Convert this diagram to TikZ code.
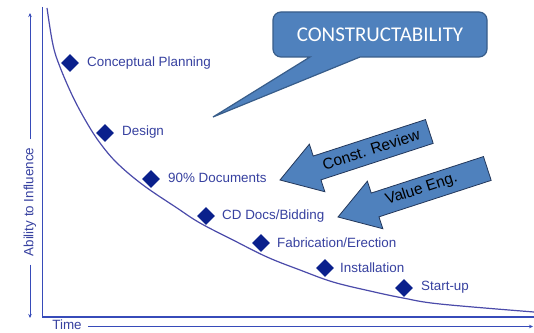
\documentclass[tikz,border=0pt]{standalone}
\usepackage{fontspec}
\setmainfont{Liberation Sans}
\newfontfamily\calibrifont{Carlito}
\usetikzlibrary{shapes.geometric,arrows.meta}
\definecolor{axisblue}{RGB}{55,75,185}
\definecolor{curveblue}{RGB}{75,75,170}
\definecolor{lblblue}{RGB}{55,65,160}
\definecolor{navy}{RGB}{10,32,140}
\definecolor{officeblue}{RGB}{79,129,189}
\definecolor{calloutedge}{RGB}{56,93,138}
\definecolor{arrowedge}{RGB}{35,55,90}
\begin{document}
\begin{tikzpicture}[x=1pt,y=1pt,
  stage/.style={diamond, fill=navy, inner sep=0pt, minimum width=18pt, minimum height=18pt},
  lbl/.style={anchor=west, text=lblblue, font=\fontsize{13.4}{15}\selectfont, inner sep=0pt},
  axisline/.style={draw=axisblue, line width=1.2pt},
  smallarrow/.style={draw=axisblue, line width=1pt, -{Stealth[length=4pt,width=3.5pt]}},
  blockarrow/.style={fill=officeblue, draw=arrowedge, line width=0.8pt, line join=miter},
  arrowtext/.style={font=\fontsize{15.5}{17}\selectfont, text=black, inner sep=0pt}
]
\useasboundingbox (0,0) rectangle (534,332);
\fill[white] (0,0) rectangle (534,332);

% axes
\coordinate (ytop) at (42.5,325);
\coordinate (origin) at (42.5,15);
\coordinate (xend) at (534,15);
\draw[axisline] (ytop) -- (origin) -- (xend);

% time label
\node[text=lblblue, font=\fontsize{13.4}{15}\selectfont, inner sep=0pt] (time) at (67,7.5) {Time};
\coordinate (tstart) at (88,5.5);
\coordinate (tend) at (533,5.5);
\draw[smallarrow] (tstart) -- (tend);

% ability label
\node[rotate=90, text=lblblue, font=\fontsize{13.4}{15}\selectfont, inner sep=0pt] (abil) at (30,130) {Ability to Influence};
\coordinate (aup) at (30,319);
\coordinate (adown) at (30,14);
\draw[smallarrow] ([yshift=8pt]abil.east) -- (aup);
\draw[smallarrow] ([yshift=-8pt]abil.west) -- (adown);

% curve
\draw[curveblue, line width=1.2pt] plot[smooth, tension=0.6] coordinates {
 (47,324) (53,287) (60,265) (73,235) (87,209) (100,189) (117,169) (143,147)
 (177,124) (200,109) (233,92) (267,75) (300,62) (333,50) (370,41) (403,34)
 (440,28) (534,20)};

% stages
\node[stage] (d1) at (70,269) {};
\node[lbl] (l1) at (87,269) {Conceptual Planning};
\node[stage] (d2) at (105,199) {};
\node[lbl] (l2) at (122,200) {Design};
\node[stage] (d3) at (151,153) {};
\node[lbl] (l3) at (168,154) {90\% Documents};
\node[stage] (d4) at (206,116) {};
\node[lbl] (l4) at (222,116) {CD Docs/Bidding};
\node[stage] (d5) at (261,89) {};
\node[lbl] (l5) at (277,89) {Fabrication/Erection};
\node[stage] (d6) at (325,64) {};
\node[lbl] (l6) at (340,64) {Installation};
\node[stage] (d7) at (404,44) {};
\node[lbl] (l7) at (421,45) {Start-up};

% callout
\coordinate (ctip) at (213,215);
\draw[fill=officeblue, draw=calloutedge, line width=1.2pt, line join=miter]
  (ctip) -- (310,275) -- (281,275) arc(270:180:8) -- (273,312) arc(180:90:8)
  -- (479,320) arc(90:0:8) -- (487,283) arc(0:-90:8) -- (360,275) -- cycle;
\node[text=white, font=\calibrifont\fontsize{21}{24}\selectfont, inner sep=0pt] (cons) at (380,297.5) {CONSTRUCTABILITY};

% block arrows
\begin{scope}[shift={(280,152)}, rotate=18]
  \coordinate (crtip) at (0,0);
  \draw[blockarrow] (crtip) -- (39,25) -- (39,12.5) -- (157,12.5) -- (157,-12.5) -- (39,-12.5) -- (39,-25) -- cycle;
  \node[arrowtext, rotate=18] (cr) at (96,1) {Const. Review};
\end{scope}
\begin{scope}[shift={(338,115)}, rotate=18]
  \coordinate (vetip) at (0,0);
  \draw[blockarrow] (vetip) -- (39,25) -- (39,12.5) -- (157,12.5) -- (157,-12.5) -- (39,-12.5) -- (39,-25) -- cycle;
  \node[arrowtext, rotate=18] (ve) at (88,0.5) {Value Eng.};
\end{scope}
\end{tikzpicture}
\end{document}
